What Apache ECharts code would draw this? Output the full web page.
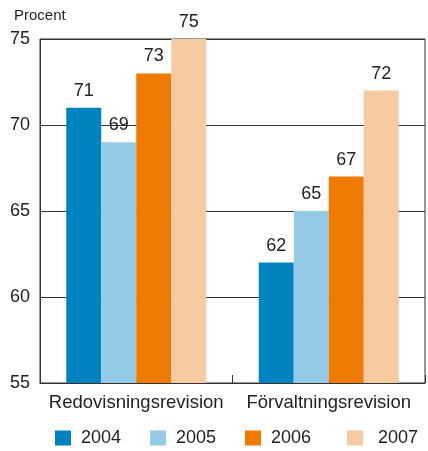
<!DOCTYPE html>
<html>
<head>
<meta charset="utf-8">
<script src="https://cdn.jsdelivr.net/npm/echarts@6/dist/echarts.min.js"></script>
<style>
  html, body { margin: 0; padding: 0; background: #fff; }
  #chart { width: 428px; height: 451px; }
</style>
</head>
<body>
<div id="chart"></div>
<script>
// Andel (procent) per revisionstyp och år
const categories = ['Redovisningsrevision', 'Förvaltningsrevision'];
const years = ['2004', '2005', '2006', '2007'];
const values2004 = [71, 62];
const values2005 = [69, 65];
const values2006 = [73, 67];
const values2007 = [75, 72];
const yTicks = [55, 60, 65, 70, 75];

const seriesValues = [values2004, values2005, values2006, values2007];
const colors = ['#0083bf', '#95cae6', '#ee7a00', '#f7cba1'];
const legendLeft = [55, 150, 245, 347];
const legendTextPad = [5, 5, 5, 10];
const font = 'Arial, "Liberation Sans", sans-serif';
const ink = '#222';

const chart = echarts.init(document.getElementById('chart'), null, { renderer: 'canvas' });

chart.setOption({
  animation: false,
  backgroundColor: '#fff',
  textStyle: { fontFamily: font, color: ink },
  grid: {
    left: 40, right: 3, top: 39, bottom: 68,
    show: true, borderColor: '#333', borderWidth: 1
  },
  title: {
    text: 'Procent',
    left: 9, top: 3,
    textStyle: { fontFamily: font, fontSize: 15, fontWeight: 'normal', color: ink }
  },
  legend: years.map((y, i) => ({
    data: [y],
    top: 429,
    left: legendLeft[i],
    padding: 0,
    itemWidth: 16, itemHeight: 15,
    icon: 'rect',
    textStyle: {
      fontFamily: font, fontSize: 18, color: ink,
      padding: [0, 0, 0, legendTextPad[i]]
    }
  })),
  xAxis: {
    type: 'category',
    data: categories,
    axisLine: { lineStyle: { color: '#333', width: 1 } },
    axisTick: { show: true, inside: true, length: 8, lineStyle: { color: '#333' } },
    axisLabel: { interval: 0, fontFamily: font, fontSize: 18.5, color: ink, margin: 10 }
  },
  yAxis: {
    type: 'value',
    min: yTicks[0],
    max: yTicks[yTicks.length - 1],
    interval: 5,
    axisLine: { show: true, lineStyle: { color: '#333', width: 1 } },
    axisTick: { show: false },
    axisLabel: { fontFamily: font, fontSize: 18, color: ink, margin: 10 },
    splitLine: { show: true, lineStyle: { color: '#333', width: 1 } }
  },
  series: years.map((y, i) => ({
    name: y,
    type: 'bar',
    data: seriesValues[i],
    barWidth: 35,
    barGap: '0%',
    itemStyle: { color: colors[i] },
    label: {
      show: true,
      position: 'top',
      distance: 8,
      fontFamily: font,
      fontSize: 18,
      color: ink
    }
  }))
});
</script>
</body>
</html>
